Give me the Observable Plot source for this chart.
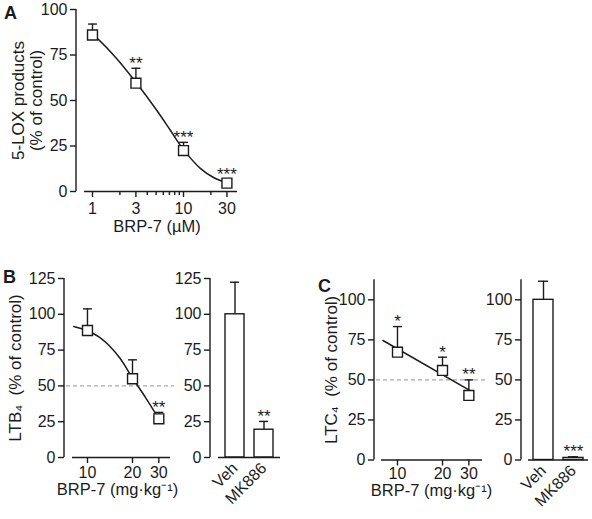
<!DOCTYPE html>
<html><head><meta charset="utf-8">
<script src="https://cdn.jsdelivr.net/npm/d3@7"></script>
<script src="https://cdn.jsdelivr.net/npm/@observablehq/plot@0.6"></script>
<style>
html,body{margin:0;padding:0;background:#fff;}
#fig{position:relative;width:592px;height:519px;overflow:hidden;font-family:"Liberation Sans",Arial,Helvetica,sans-serif;color:#1b1b1b;}
.tag{position:absolute;font-weight:bold;font-size:18px;line-height:1;}
</style></head><body>
<div id="fig">
<div class="tag" style="left:4px;top:4px">A</div>
<div class="tag" style="left:3px;top:268px">B</div>
<div class="tag" style="left:318px;top:277px">C</div>
</div>
<script>
// ---------- data ----------
// Panel A: 5-LOX products vs BRP-7 (µM)
const doseA = [1, 3, 10, 30];
const lox = [86, 59.5, 22.5, 4.6];
const loxErr = [92, 67.7, 27, 6.5];
const loxStars = ["", "**", "***", "***"];
const fitDoseA = [0.9, 1, 1.7, 3, 5.1, 7.2, 10, 15.4, 21.4, 30];
const fitLox = [87.5, 86.3, 75, 60, 44.5, 33.5, 23, 12.6, 7.7, 4.6];
const ticksA = [1, 3, 10, 30];
const minorA = [2, 4, 5, 6, 7, 8, 9, 20];
const yTicksA = [0, 25, 50, 75, 100];

// Panels B, C: BRP-7 (mg·kg-1)
const doseBC = [10, 20, 30];
const ticksBC = [10, 20, 30];
const ltb4 = [88.7, 55, 27];
const ltb4Err = [103.8, 68.2, 31.5];
const ltb4Stars = ["", "", "**"];
const fitDoseB = [8.1, 10, 12, 14.3, 16.6, 20, 24.4, 30];
const fitLtb4 = [91.5, 88.5, 84, 77, 69, 55.5, 42, 27];
const ltc4 = [67.3, 55.9, 40.3];
const ltc4Err = [83.3, 64.2, 50];
const ltc4Stars = ["*", "*", "**"];
const fitDoseC = [8, 31];
const fitLtc4 = [74.6, 43];
const yTicksB = [0, 25, 50, 75, 100, 125];
const yTicksC = [0, 25, 50, 75, 100];

// bar panels
const groups = ["Veh", "MK886"];
const ltb4Bar = [100, 19.4];
const ltb4BarErr = [122.4, 25.2];
const ltb4BarStars = ["", "**"];
const ltc4Bar = [100, 1.3];
const ltc4BarErr = [111.6, 2];
const ltc4BarStars = ["", "***"];

// ---------- drawing ----------
const INK = "#1b1b1b";
const DASH = "#a9a9a9";
const fig = document.getElementById("fig");
const baseStyle = {background: "transparent", overflow: "visible",
  fontFamily: '"Liberation Sans", Arial, Helvetica, sans-serif', fontSize: "16px", color: INK};

function place(svg, left, top) {
  svg.style.position = "absolute";
  svg.style.left = left + "px";
  svg.style.top = top + "px";
  fig.appendChild(svg);
}

const capSymbol = {draw(ctx, size) { const w = Math.sqrt(size); ctx.moveTo(-w / 2, 0); ctx.lineTo(w / 2, 0); }};

function yAxisLine(yTop) {
  return function(index, scales, values, dimensions) {
    const x = dimensions.marginLeft;
    return d3.create("svg:line")
      .attr("x1", x).attr("x2", x)
      .attr("y1", scales.y(0)).attr("y2", scales.y(yTop))
      .attr("stroke", INK).attr("stroke-width", 1.4).node();
  };
}

function dosePanel(o) {
  const pts = o.doses.map((d, i) => ({dose: d, v: o.vals[i], err: o.errs[i], star: o.stars[i]}));
  const fit = o.fitX.map((d, i) => ({dose: d, v: o.fitY[i]}));
  const marks = [];
  if (o.ref !== undefined) marks.push(Plot.ruleY([o.ref], {stroke: DASH, strokeWidth: 1.2, strokeDasharray: "4,3", insetLeft: 2, insetRight: -4}));
  marks.push(
    yAxisLine(o.yTop),
    Plot.ruleY([0], {stroke: INK, strokeWidth: 1.4, insetLeft: o.gap}),
    Plot.axisY({ticks: o.yTicks, tickSize: 6, tickPadding: 3, label: null, stroke: INK, strokeWidth: 1.4}),
    Plot.axisX({ticks: o.xTicks, tickSize: 6, tickPadding: o.xPad, label: null, tickFormat: d => String(d), stroke: INK, strokeWidth: 1.4})
  );
  if (o.xMinor) marks.push(Plot.axisX({ticks: o.xMinor, tickSize: 4, tickFormat: () => "", label: null, stroke: INK, strokeWidth: 1.4}));
  marks.push(
    Plot.line(fit, {x: "dose", y: "v", curve: o.curve, stroke: INK, strokeWidth: 1.5}),
    Plot.ruleX(pts, {x: "dose", y1: "v", y2: "err", stroke: INK, strokeWidth: 1.4}),
    Plot.dot(pts, {x: "dose", y: "err", symbol: capSymbol, r: 5, stroke: INK, strokeWidth: 1.4, fill: "none"}),
    Plot.dot(pts, {x: "dose", y: "v", symbol: "square", r: 5.6, fill: "white", stroke: INK, strokeWidth: 1.4}),
    Plot.text(pts, {x: "dose", y: "err", text: "star", dy: -5, fontSize: 17}),
    Plot.text([o.ylabel], {frameAnchor: "left", textAnchor: "middle", rotate: -90, dx: o.ylabelDx, fontSize: 17, lineHeight: 1.05}),
    Plot.text([o.xlabel], {frameAnchor: "bottom", textAnchor: "middle", dy: o.xlabelDy, dx: o.xlabelDx || 0, fontSize: 16.5})
  );
  const svg = Plot.plot({
    width: o.W, height: o.H,
    marginLeft: o.mL, marginRight: o.mR, marginTop: o.mT, marginBottom: o.mB,
    x: {type: "log", domain: o.xDomain, insetLeft: o.gap, label: null},
    y: {domain: [0, o.yTop], label: null},
    style: baseStyle,
    marks
  });
  place(svg, o.left, o.top);
}

function barPanel(o) {
  const rows = groups.map((g, i) => ({g, v: o.vals[i], err: o.errs[i], star: o.stars[i]}));
  const marks = [
    yAxisLine(o.yTop),
    Plot.axisY({ticks: o.yTicks, tickSize: 6, tickPadding: 3, label: null, stroke: INK, strokeWidth: 1.4}),
    Plot.ruleX(rows, {x: "g", y1: "v", y2: "err", stroke: INK, strokeWidth: 1.4}),
    Plot.tickY(rows, {x: "g", y: "err", stroke: INK, strokeWidth: 1.4, insetLeft: 5, insetRight: 5}),
    Plot.barY(rows, {x: "g", y: "v", fill: "white", stroke: INK, strokeWidth: 1.4}),
    Plot.ruleY([0], {stroke: INK, strokeWidth: 1.4, insetLeft: o.gap}),
    Plot.axisX({tickSize: 0, tickRotate: -45, tickPadding: o.xPad, label: null}),
    Plot.text(rows, {x: "g", y: "err", text: "star", dy: -5, fontSize: 17})
  ];
  const svg = Plot.plot({
    width: o.W, height: o.H,
    marginLeft: o.mL, marginRight: o.mR, marginTop: o.mT, marginBottom: o.mB,
    x: {type: "band", domain: groups, paddingInner: 1 / 3, paddingOuter: o.padOuter, insetLeft: o.gap, label: null},
    y: {domain: [0, o.yTop], label: null},
    style: baseStyle,
    marks
  });
  place(svg, o.left, o.top);
}

// Panel A
dosePanel({left: 0, top: 0, W: 250, H: 250, mL: 76, mR: 13, mT: 9, mB: 59, gap: 8,
  xDomain: [0.817, 39.2], yTop: 100, yTicks: yTicksA, xTicks: ticksA, xMinor: minorA, xPad: 5,
  doses: doseA, vals: lox, errs: loxErr, stars: loxStars, fitX: fitDoseA, fitY: fitLox, curve: "catmull-rom",
  ylabel: "5-LOX products\n(% of control)", ylabelDx: -49.5, xlabel: "BRP-7 (µM)", xlabelDy: 40});

// Panel B (left)
dosePanel({left: 0, top: 240, W: 200, H: 279, mL: 64, mR: 30, mT: 38, mB: 62, gap: 8,
  xDomain: [7.94, 35.9], yTop: 125, yTicks: yTicksB, xTicks: ticksBC, xPad: 3, ref: 50,
  doses: doseBC, vals: ltb4, errs: ltb4Err, stars: ltb4Stars, fitX: fitDoseB, fitY: fitLtb4, curve: "catmull-rom",
  ylabel: "LTB₄  (% of control)", ylabelDx: -49, xlabel: "BRP-7 (mg·kg⁻¹)", xlabelDy: 37});

// Panel B (right)
barPanel({left: 160, top: 240, W: 130, H: 279, mL: 50, mR: 10, mT: 38, mB: 62, gap: 8, padOuter: 0.2,
  yTop: 125, yTicks: yTicksB, xPad: 8, vals: ltb4Bar, errs: ltb4BarErr, stars: ltb4BarStars});

// Panel C (left)
dosePanel({left: 300, top: 240, W: 200, H: 279, mL: 74, mR: 18, mT: 39.3, mB: 59.5, gap: 7,
  xDomain: [7.82, 37.0], yTop: 112.5, yTicks: yTicksC, xTicks: ticksBC, xPad: 2, ref: 50,
  doses: doseBC, vals: ltc4, errs: ltc4Err, stars: ltc4Stars, fitX: fitDoseC, fitY: fitLtc4, curve: "linear",
  ylabel: "LTC₄  (% of control)", ylabelDx: -43, xlabel: "BRP-7 (mg·kg⁻¹)", xlabelDy: 36, xlabelDx: 3});

// Panel C (right)
barPanel({left: 470, top: 240, W: 122, H: 279, mL: 51, mR: 4, mT: 39.3, mB: 59.5, gap: 7, padOuter: 1 / 6,
  yTop: 112.5, yTicks: yTicksC, xPad: 8, vals: ltc4Bar, errs: ltc4BarErr, stars: ltc4BarStars});
</script>
</body></html>
